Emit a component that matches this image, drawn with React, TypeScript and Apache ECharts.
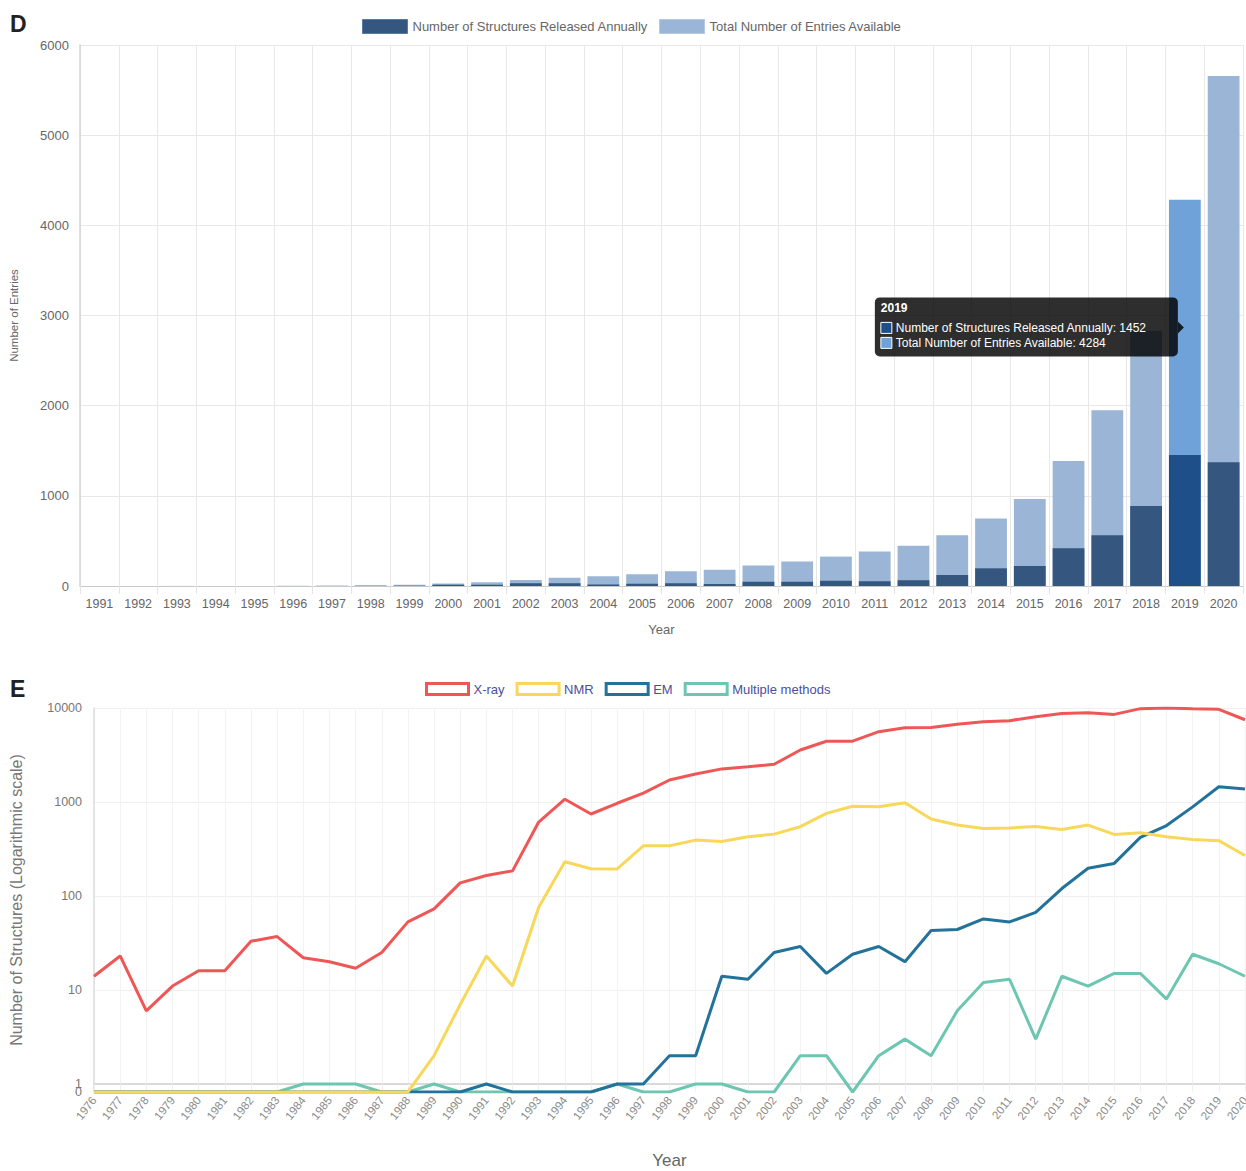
import React, { useEffect, useRef } from "react";
import * as echarts from "echarts";

// ---------- Panel D data ----------
const barYears = [
  "1991", "1992", "1993", "1994", "1995", "1996", "1997", "1998", "1999", "2000",
  "2001", "2002", "2003", "2004", "2005", "2006", "2007", "2008", "2009", "2010",
  "2011", "2012", "2013", "2014", "2015", "2016", "2017", "2018", "2019", "2020",
];
const annualReleased = [
  1, 0, 0, 0, 0, 1, 1, 2, 3, 15,
  14, 30, 30, 16, 26, 30, 22, 46, 46, 58,
  52, 64, 122, 196, 222, 418, 562, 887, 1452, 1372,
];
const totalEntries = [
  1, 1, 1, 1, 1, 2, 3, 5, 14, 28,
  41, 66, 92, 107, 131, 164, 180, 228, 273, 326,
  382, 446, 562, 750, 966, 1385, 1950, 2832, 4284, 5656,
];
const barYTicks = [0, 1000, 2000, 3000, 4000, 5000, 6000];
const highlightYear = "2019";

// ---------- Panel E data ----------
const lineYears = [
  "1976", "1977", "1978", "1979", "1980", "1981", "1982", "1983", "1984", "1985",
  "1986", "1987", "1988", "1989", "1990", "1991", "1992", "1993", "1994", "1995",
  "1996", "1997", "1998", "1999", "2000", "2001", "2002", "2003", "2004", "2005",
  "2006", "2007", "2008", "2009", "2010", "2011", "2012", "2013", "2014", "2015",
  "2016", "2017", "2018", "2019", "2020",
];
const xray = [
  14, 23, 6, 11, 16, 16, 33, 37, 22, 20,
  17, 25, 53, 73, 138, 165, 185, 612, 1070, 745,
  969, 1240, 1714, 1985, 2250, 2377, 2518, 3570, 4425, 4440,
  5600, 6170, 6200, 6700, 7150, 7330, 8090, 8750, 8880, 8550,
  9840, 10000, 9840, 9690, 7500,
];
const nmr = [
  0, 0, 0, 0, 0, 0, 0, 0, 0, 0,
  0, 0, 0, 2, 7, 23, 11, 76, 231, 195,
  194, 342, 342, 393, 380, 427, 455, 546, 757, 900,
  890, 980, 658, 568, 523, 530, 550, 510, 568, 452,
  470, 427, 400, 388, 270,
];
const em = [
  0, 0, 0, 0, 0, 0, 0, 0, 0, 0,
  0, 0, 0, 0, 0, 1, 0, 0, 0, 0,
  1, 1, 2, 2, 14, 13, 25, 29, 15, 24,
  29, 20, 43, 44, 57, 53, 67, 120, 197, 222,
  420, 562, 887, 1452, 1372,
];
const multiple = [
  0, 0, 0, 0, 0, 0, 0, 0, 1, 1,
  1, 0, 0, 1, 0, 0, 0, 0, 0, 0,
  1, 0, 0, 1, 1, 0, 0, 2, 2, 0,
  2, 3, 2, 6, 12, 13, 3, 14, 11, 15,
  15, 8, 24, 19, 14,
];
const logTickValues = [1, 10, 100, 1000, 10000];

const ANNUAL = "Number of Structures Released Annually";
const TOTAL = "Total Number of Entries Available";
const FONT = "Arial, 'Liberation Sans', Helvetica, sans-serif";

// position of a "0" count below 1 on the log axis (Chart.js-like)
const ZERO_POS = -0.0856;
const toLog = (v: number) => (v > 0 ? Math.log10(v) : ZERO_POS);

const C_ANNUAL = "#34567f";
const C_TOTAL = "#9bb5d6";
const C_ANNUAL_HL = "#1f4f88";
const C_TOTAL_HL = "#6fa2d9";
const C_XRAY = "#ef5656";
const C_NMR = "#f8d85a";
const C_EM = "#22729a";
const C_MULTI = "#6cc6b1";

export default function App() {
  const ref = useRef<HTMLDivElement>(null);

  useEffect(() => {
    if (!ref.current) return;
    const chart = echarts.init(ref.current, null, { renderer: "svg" });
    const hlIdx = barYears.indexOf(highlightYear);

    const logTicks = logTickValues.map((v) => Math.log10(v));
    const logMax = Math.log10(logTickValues[logTickValues.length - 1]);

    const option: any = {
      animation: false,
      backgroundColor: "#ffffff",
      textStyle: { fontFamily: FONT },
      legend: [
        {
          left: 357,
          top: 14,
          itemWidth: 45,
          itemHeight: 14,
          itemGap: 11,
          textStyle: { color: "#666", fontSize: 13, fontFamily: FONT },
          data: [
            { name: ANNUAL, icon: "rect", itemStyle: { color: C_ANNUAL, borderColor: "#5a7aa3", borderWidth: 1 } },
            { name: TOTAL, icon: "rect", itemStyle: { color: C_TOTAL, borderColor: "#b5c8e2", borderWidth: 1 } },
          ],
          selectedMode: false,
        },
        {
          left: 420,
          top: 677,
          itemWidth: 42,
          itemHeight: 11,
          itemGap: 11,
          textStyle: { color: "#4b4f9c", fontSize: 13, fontFamily: FONT },
          data: [
            { name: "X-ray", icon: "rect", itemStyle: { color: "#ffffff", borderColor: C_XRAY, borderWidth: 3 } },
            { name: "NMR", icon: "rect", itemStyle: { color: "#ffffff", borderColor: C_NMR, borderWidth: 3 } },
            { name: "EM", icon: "rect", itemStyle: { color: "#ffffff", borderColor: C_EM, borderWidth: 3 } },
            { name: "Multiple methods", icon: "rect", itemStyle: { color: "#ffffff", borderColor: C_MULTI, borderWidth: 3 } },
          ],
          selectedMode: false,
        },
      ],
      grid: [
        { left: 80, top: 45, width: 1163, height: 541, containLabel: false, outerBoundsMode: "none" },
        { left: 94, top: 708, width: 1151, height: 384, containLabel: false, outerBoundsMode: "none" },
      ],
      xAxis: [
        {
          type: "category",
          gridIndex: 0,
          data: barYears,
          boundaryGap: true,
          name: "Year",
          nameLocation: "middle",
          nameGap: 37,
          nameTextStyle: { color: "#666", fontSize: 13 },
          axisLine: { show: true, lineStyle: { color: "#c8c8c8", width: 1 } },
          axisTick: { show: true, length: 8, lineStyle: { color: "#e4e4e4" } },
          axisLabel: { interval: 0, color: "#666", fontSize: 12.5, margin: 11 },
          splitLine: { show: true, interval: 0, lineStyle: { color: "#e8e8e8", width: 1 } },
        },
        {
          type: "category",
          gridIndex: 1,
          data: lineYears,
          boundaryGap: false,
          name: "Year",
          nameLocation: "middle",
          nameGap: 60,
          nameTextStyle: { color: "#666", fontSize: 17 },
          axisLine: { show: true, lineStyle: { color: "#cfcfcf", width: 1.5 } },
          axisTick: { show: true, length: 6, lineStyle: { color: "#eeeeee" } },
          axisLabel: { interval: 0, rotate: 52, color: "#8a8a8a", fontSize: 11.5, margin: 6 },
          splitLine: { show: true, interval: 0, lineStyle: { color: "#f3f3f3", width: 1 } },
        },
      ],
      yAxis: [
        {
          type: "value",
          gridIndex: 0,
          min: barYTicks[0],
          max: barYTicks[barYTicks.length - 1],
          interval: barYTicks[1] - barYTicks[0],
          name: "Number of Entries",
          nameLocation: "middle",
          nameGap: 60,
          nameTextStyle: { color: "#666", fontSize: 11.5 },
          axisLine: { show: true, lineStyle: { color: "#d4d4d4", width: 1.5 } },
          axisTick: { show: false },
          axisLabel: { color: "#666", fontSize: 13, margin: 11, formatter: (v: number) => String(v) },
          splitLine: { show: true, lineStyle: { color: "#e8e8e8", width: 1 } },
        },
        {
          type: "value",
          gridIndex: 1,
          min: ZERO_POS,
          max: logMax,
          name: "Number of Structures (Logarithmic scale)",
          nameLocation: "middle",
          nameGap: 70,
          nameTextStyle: { color: "#777", fontSize: 16 },
          axisLine: { show: true, lineStyle: { color: "#dcdcdc", width: 1.5 } },
          axisTick: { show: false, customValues: logTicks },
          axisLabel: {
            customValues: logTicks,
            showMinLabel: true,
            showMaxLabel: true,
            color: "#777",
            fontSize: 12.5,
            margin: 12,
            formatter: (v: number) => String(Math.round(Math.pow(10, v))),
          },
          splitLine: { show: true, lineStyle: { color: "#f0f0f0", width: 1 } },
        },
        {
          // second label layer for the "0" count position below 1
          type: "value",
          gridIndex: 1,
          min: ZERO_POS,
          max: logMax,
          position: "left",
          axisLine: { show: false },
          axisTick: { show: false, customValues: [ZERO_POS] },
          splitLine: { show: false },
          axisLabel: {
            customValues: [ZERO_POS],
            showMinLabel: true,
            color: "#777",
            fontSize: 12.5,
            margin: 12,
            formatter: () => "0",
          },
        },
      ],
      series: [
        {
          name: TOTAL,
          type: "bar",
          xAxisIndex: 0,
          yAxisIndex: 0,
          barCategoryGap: "18%",
          barGap: "-100%",
          itemStyle: { color: C_TOTAL },
          data: totalEntries.map((v, i) =>
            i === hlIdx ? { value: v, itemStyle: { color: C_TOTAL_HL } } : v
          ),
        },
        {
          name: ANNUAL,
          type: "bar",
          xAxisIndex: 0,
          yAxisIndex: 0,
          barCategoryGap: "18%",
          barGap: "-100%",
          itemStyle: { color: C_ANNUAL },
          data: annualReleased.map((v, i) =>
            i === hlIdx ? { value: v, itemStyle: { color: C_ANNUAL_HL } } : v
          ),
        },
        {
          name: "Multiple methods",
          type: "line",
          xAxisIndex: 1,
          yAxisIndex: 1,
          showSymbol: false,
          lineStyle: { color: C_MULTI, width: 3 },
          itemStyle: { color: C_MULTI },
          data: multiple.map(toLog),
        },
        {
          name: "EM",
          type: "line",
          xAxisIndex: 1,
          yAxisIndex: 1,
          showSymbol: false,
          lineStyle: { color: C_EM, width: 3 },
          itemStyle: { color: C_EM },
          data: em.map(toLog),
        },
        {
          name: "NMR",
          type: "line",
          xAxisIndex: 1,
          yAxisIndex: 1,
          showSymbol: false,
          lineStyle: { color: C_NMR, width: 3 },
          itemStyle: { color: C_NMR },
          data: nmr.map(toLog),
        },
        {
          name: "X-ray",
          type: "line",
          xAxisIndex: 1,
          yAxisIndex: 1,
          showSymbol: false,
          lineStyle: { color: C_XRAY, width: 3 },
          itemStyle: { color: C_XRAY },
          data: xray.map(toLog),
        },
      ],
    };

    chart.setOption(option);

    // Tooltip-like box (as shown in the reference) anchored at the 2019 bars
    const a = annualReleased[hlIdx];
    const t = totalEntries[hlIdx];
    const tip = chart.convertToPixel({ gridIndex: 0 }, [highlightYear, (a + t) / 2]) as number[];
    const tx = tip[0];
    const ty = tip[1];
    const boxW = 303;
    const boxH = 59;
    const bx = tx - 7 - boxW;
    const by = ty - 30;
    const TZ = 100;

    chart.setOption({
      graphic: [
        {
          type: "text",
          left: 10,
          top: 12,
          style: { text: "D", fontSize: 23, fontWeight: "bold", fill: "#222", fontFamily: FONT },
        },
        {
          type: "text",
          left: 10,
          top: 677,
          style: { text: "E", fontSize: 23, fontWeight: "bold", fill: "#222", fontFamily: FONT },
        },
        {
          type: "rect",
          z: TZ,
          shape: { x: bx, y: by, width: boxW, height: boxH, r: 5 },
          style: { fill: "rgba(0,0,0,0.82)" },
        },
        {
          type: "polygon",
          z: TZ,
          shape: { points: [[tx - 7, ty - 6], [tx - 1, ty], [tx - 7, ty + 6]] },
          style: { fill: "rgba(0,0,0,0.82)" },
        },
        {
          type: "text",
          z: TZ + 1,
          x: bx + 6,
          y: ty - 19,
          style: {
            text: highlightYear,
            fill: "#fff",
            fontSize: 12,
            fontWeight: "bold",
            fontFamily: FONT,
            verticalAlign: "middle",
          },
        },
        {
          type: "rect",
          z: TZ + 1,
          shape: { x: bx + 6, y: ty - 5, width: 11, height: 11 },
          style: { fill: C_ANNUAL_HL, stroke: "#fff", lineWidth: 1 },
        },
        {
          type: "text",
          z: TZ + 1,
          x: bx + 21,
          y: ty + 1,
          style: {
            text: `${ANNUAL}: ${a}`,
            fill: "#fff",
            fontSize: 12,
            fontFamily: FONT,
            verticalAlign: "middle",
          },
        },
        {
          type: "rect",
          z: TZ + 1,
          shape: { x: bx + 6, y: ty + 10, width: 11, height: 11 },
          style: { fill: C_TOTAL_HL, stroke: "#fff", lineWidth: 1 },
        },
        {
          type: "text",
          z: TZ + 1,
          x: bx + 21,
          y: ty + 16,
          style: {
            text: `${TOTAL}: ${t}`,
            fill: "#fff",
            fontSize: 12,
            fontFamily: FONT,
            verticalAlign: "middle",
          },
        },
      ],
    });

    return () => chart.dispose();
  }, []);

  return (
    <div
      ref={ref}
      style={{ position: "fixed", left: 0, top: 0, width: 1246, height: 1171, background: "#fff" }}
    />
  );
}
